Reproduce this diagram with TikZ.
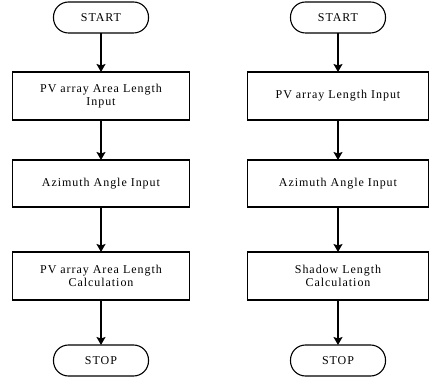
\documentclass[tikz,border=0pt]{standalone}
\usepackage{fontspec}
\usepackage{tikz}
\usetikzlibrary{arrows,arrows.meta,shapes,positioning}
\newfontfamily\flowfont[LetterSpace=8]{Liberation Serif}
\tikzstyle{terminal} = [rectangle, rounded corners=15pt, minimum width=95pt, minimum height=31pt, text centered, draw=black, line width=1.1pt, outer sep=0pt, font=\flowfont\fontsize{12}{13.5}\selectfont]
\tikzstyle{process} = [rectangle, minimum width=177pt, minimum height=48pt, align=center, draw=black, line width=1.1pt, outer sep=0pt, font=\flowfont\fontsize{12}{13.5}\selectfont]
\tikzstyle{arrow} = [line width=1.1pt,-{Stealth[length=8pt,width=9pt,inset=1.5pt]}]

\begin{document}
\begin{tikzpicture}[node distance=40pt]
\useasboundingbox (0,0) rectangle (431pt,-379pt);
% left chart
\node (startA) [terminal] at (101pt,-17.5pt) {START};
\node (inA) [process, below=39pt of startA] {PV array Area Length\\Input};
\node (angA) [process, below=of inA, minimum height=47pt] {Azimuth Angle Input};
\node (calcA) [process, below=45pt of angA] {PV array Area Length\\Calculation};
\node (stopA) [terminal, below=45pt of calcA] {STOP};
% right chart
\node (startB) [terminal] at (338pt,-17.5pt) {START};
\node (inB) [process, below=39pt of startB, minimum width=181pt] {PV array Length Input};
\node (angB) [process, below=of inB, minimum width=181pt, minimum height=47pt] {Azimuth Angle Input};
\node (calcB) [process, below=45pt of angB, minimum width=181pt] {Shadow Length\\Calculation};
\node (stopB) [terminal, below=45pt of calcB] {STOP};

\draw[arrow] (startA) -- (inA);
\draw[arrow] (inA) -- (angA);
\draw[arrow] (angA) -- (calcA);
\draw[arrow] (calcA) -- (stopA);
\draw[arrow] (startB) -- (inB);
\draw[arrow] (inB) -- (angB);
\draw[arrow] (angB) -- (calcB);
\draw[arrow] (calcB) -- (stopB);
\end{tikzpicture}
\end{document}
